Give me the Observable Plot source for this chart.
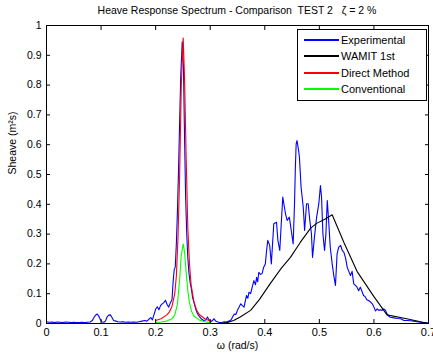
<!DOCTYPE html>
<html>
<head>
<meta charset="utf-8">
<script src="https://cdn.jsdelivr.net/npm/d3@7"></script>
<script src="https://cdn.jsdelivr.net/npm/@observablehq/plot@0.6"></script>
<style>
  html, body { margin: 0; padding: 0; background: #fff; }
  #wrap { position: relative; width: 433px; height: 358px; font-family: "Liberation Sans", Arial, sans-serif; }
  #title { position: absolute; left: 46px; width: 382px; top: 4px; text-align: center; font-size: 10.5px; white-space: pre; }
  #legend { position: absolute; left: 297px; top: 29px; }
</style>
</head>
<body>
<div id="wrap"></div>
<script>
const title = "Heave Response Spectrum - Comparison  TEST 2   \u03b6 = 2 %";
const xLabel = "\u03c9 (rad/s)";
const yLabel = "Sheave (m\u00b2s)";
const xTicks = [0, 0.1, 0.2, 0.3, 0.4, 0.5, 0.6, 0.7];
const xTickLabels = ["0", "0.1", "0.2", "0.3", "0.4", "0.5", "0.6", "0.7"];
const yTicks = [0, 0.1, 0.2, 0.3, 0.4, 0.5, 0.6, 0.7, 0.8, 0.9, 1];
const yTickLabels = ["0", "0.1", "0.2", "0.3", "0.4", "0.5", "0.6", "0.7", "0.8", "0.9", "1"];
const seriesNames = ["Experimental", "WAMIT 1st", "Direct Method", "Conventional"];
const seriesColors = ["#0000ff", "#000000", "#ff0000", "#00ff00"];

const experimental = [
[0.000,0.006],[0.005,0.004],[0.010,0.005],[0.015,0.003],[0.020,0.005],[0.025,0.004],[0.030,0.003],[0.035,0.005],[0.040,0.004],[0.045,0.003],[0.050,0.004],[0.055,0.003],[0.060,0.003],[0.065,0.004],[0.070,0.003],[0.075,0.004],[0.080,0.005],[0.084,0.010],[0.087,0.020],[0.090,0.028],[0.093,0.032],[0.096,0.024],[0.099,0.012],[0.102,0.005],[0.105,0.004],[0.108,0.008],[0.111,0.022],[0.114,0.028],[0.117,0.029],[0.120,0.020],[0.123,0.010],[0.127,0.008],[0.131,0.006],[0.135,0.005],[0.140,0.006],[0.145,0.004],[0.150,0.005],[0.155,0.004],[0.160,0.005],[0.165,0.004],[0.170,0.006],[0.175,0.008],[0.180,0.010],[0.184,0.008],[0.188,0.015],[0.191,0.020],[0.194,0.012],[0.197,0.030],[0.200,0.048],[0.203,0.056],[0.206,0.046],[0.209,0.060],[0.212,0.066],[0.215,0.070],[0.218,0.078],[0.221,0.064],[0.224,0.055],[0.227,0.070],[0.230,0.080],[0.232,0.140],[0.234,0.180],[0.236,0.190],[0.238,0.270],[0.240,0.380],[0.242,0.520],[0.244,0.680],[0.246,0.830],[0.2487,0.945],[0.251,0.860],[0.253,0.620],[0.255,0.420],[0.257,0.300],[0.259,0.220],[0.261,0.170],[0.263,0.140],[0.265,0.120],[0.268,0.085],[0.271,0.065],[0.274,0.045],[0.277,0.032],[0.280,0.024],[0.284,0.015],[0.288,0.010],[0.292,0.012],[0.295,0.022],[0.298,0.012],[0.301,0.006],[0.304,0.010],[0.307,0.016],[0.310,0.008],[0.314,0.005],[0.318,0.003],[0.322,0.004],[0.326,0.006],[0.330,0.005],[0.334,0.008],[0.338,0.012],[0.341,0.022],[0.344,0.032],[0.347,0.030],[0.350,0.045],[0.353,0.055],[0.356,0.066],[0.359,0.060],[0.362,0.055],[0.3665,0.094],[0.369,0.085],[0.371,0.105],[0.374,0.100],[0.377,0.122],[0.380,0.144],[0.383,0.130],[0.385,0.155],[0.387,0.140],[0.389,0.172],[0.392,0.165],[0.395,0.167],[0.398,0.189],[0.401,0.200],[0.403,0.240],[0.4055,0.279],[0.409,0.262],[0.412,0.200],[0.414,0.260],[0.4165,0.335],[0.4215,0.340],[0.424,0.279],[0.4275,0.245],[0.430,0.330],[0.433,0.424],[0.436,0.390],[0.438,0.368],[0.441,0.346],[0.445,0.357],[0.4485,0.312],[0.452,0.267],[0.4545,0.402],[0.456,0.520],[0.4575,0.603],[0.459,0.614],[0.462,0.580],[0.4635,0.558],[0.4665,0.457],[0.4705,0.390],[0.473,0.312],[0.4765,0.402],[0.4795,0.402],[0.4825,0.346],[0.4855,0.301],[0.4875,0.222],[0.491,0.290],[0.495,0.357],[0.499,0.402],[0.502,0.463],[0.504,0.424],[0.5065,0.301],[0.5095,0.245],[0.512,0.300],[0.5145,0.413],[0.517,0.346],[0.520,0.256],[0.5235,0.200],[0.5265,0.160],[0.5295,0.128],[0.5325,0.234],[0.5355,0.256],[0.539,0.262],[0.542,0.245],[0.545,0.239],[0.548,0.220],[0.551,0.189],[0.554,0.175],[0.557,0.161],[0.560,0.175],[0.563,0.133],[0.566,0.128],[0.569,0.122],[0.572,0.110],[0.575,0.122],[0.578,0.108],[0.581,0.094],[0.584,0.090],[0.587,0.080],[0.590,0.077],[0.594,0.072],[0.597,0.066],[0.600,0.055],[0.603,0.042],[0.606,0.049],[0.609,0.044],[0.612,0.046],[0.615,0.044],[0.618,0.049],[0.621,0.045],[0.624,0.032],[0.627,0.025],[0.630,0.021],[0.6365,0.019],[0.643,0.017],[0.649,0.016],[0.655,0.010],[0.661,0.010],[0.667,0.009],[0.673,0.008],[0.679,0.006],[0.685,0.004],[0.691,0.003],[0.698,0.002]
];

const wamit = [
[0.200,0],[0.250,0],[0.300,0],[0.320,0.001],[0.330,0.003],[0.343,0.010],[0.355,0.022],[0.374,0.044],[0.390,0.080],[0.410,0.134],[0.430,0.185],[0.447,0.222],[0.465,0.272],[0.484,0.320],[0.495,0.336],[0.510,0.350],[0.5235,0.365],[0.545,0.272],[0.569,0.175],[0.600,0.090],[0.624,0.029],[0.660,0.016],[0.698,0.001]
];

const direct = [
[0.200,0.010],[0.210,0.016],[0.220,0.028],[0.225,0.038],[0.230,0.058],[0.235,0.100],[0.238,0.160],[0.241,0.290],[0.244,0.500],[0.247,0.800],[0.2505,0.958],[0.253,0.820],[0.256,0.550],[0.259,0.320],[0.262,0.200],[0.265,0.130],[0.270,0.075],[0.275,0.045],[0.280,0.030],[0.290,0.016],[0.300,0.008]
];

const conventional = [
[0.200,0.003],[0.210,0.005],[0.220,0.008],[0.230,0.016],[0.235,0.028],[0.240,0.065],[0.244,0.150],[0.247,0.230],[0.2505,0.267],[0.253,0.240],[0.256,0.170],[0.259,0.110],[0.262,0.070],[0.266,0.040],[0.270,0.025],[0.280,0.012],[0.290,0.006],[0.300,0.003]
];

const series = [experimental, wamit, direct, conventional];
const rows = [];
series.forEach((s, k) => s.forEach(([w, v]) => rows.push({series: seriesNames[k], w, v})));

const font = "Liberation Sans, Arial, sans-serif";
const plot = Plot.plot({
  width: 433,
  height: 358,
  marginLeft: 46,
  marginRight: 5,
  marginTop: 25,
  marginBottom: 35,
  style: {fontFamily: font, fontSize: "10.5px", background: "#fff", color: "#000"},
  x: {domain: [0, 0.7]},
  y: {domain: [0, 1]},
  color: {domain: seriesNames, range: seriesColors},
  marks: [
    Plot.frame({stroke: "#000", strokeWidth: 1}),
    Plot.line(rows, {x: "w", y: "v", z: "series", stroke: "series", strokeWidth: 1.1}),
    Plot.axisX({anchor: "bottom", ticks: xTicks, tickSize: 0, tickPadding: 5, tickFormat: (d, i) => xTickLabels[i], label: null, fontSize: 11, style: "letter-spacing:0.8px"}),
    Plot.axisX({anchor: "bottom", ticks: xTicks, tickSize: -4, tickFormat: () => "", label: null}),
    Plot.axisX({anchor: "top", ticks: xTicks, tickSize: -4, tickFormat: () => "", label: null}),
    Plot.axisY({anchor: "left", ticks: yTicks, tickSize: 0, tickPadding: 5, tickFormat: (d, i) => yTickLabels[i], label: null, fontSize: 10.5}),
    Plot.axisY({anchor: "left", ticks: yTicks, tickSize: -4, tickFormat: () => "", label: null}),
    Plot.axisY({anchor: "right", ticks: yTicks, tickSize: -4, tickFormat: () => "", label: null}),
    Plot.text([xLabel], {frameAnchor: "bottom", dy: 25, fontSize: 10.5}),
    Plot.text([yLabel], {frameAnchor: "left", dx: -34, rotate: -90, fontSize: 10.5})
  ]
});

const wrap = document.getElementById("wrap");
wrap.appendChild(plot);
const t = document.createElement("div");
t.id = "title";
t.textContent = title;
wrap.appendChild(t);

// legend as a small SVG overlay
const lgW = 130, lgH = 72;
const lg = d3.create("svg")
  .attr("id", "legend")
  .attr("width", lgW)
  .attr("height", lgH)
  .style("font-family", font)
  .style("font-size", "11px");
lg.append("rect")
  .attr("x", 0.5).attr("y", 0.5)
  .attr("width", lgW - 1).attr("height", lgH - 1)
  .attr("fill", "#fff").attr("stroke", "#000");
seriesNames.forEach((name, i) => {
  const yy = Math.round(11 + i * 16.3);
  lg.append("line")
    .attr("x1", 7).attr("x2", 42)
    .attr("y1", yy).attr("y2", yy)
    .attr("stroke", seriesColors[i]).attr("stroke-width", 2);
  lg.append("text")
    .attr("x", 44).attr("y", yy)
    .attr("dy", "0.35em")
    .attr("fill", "#000")
    .text(name);
});
wrap.appendChild(lg.node());
</script>
</body>
</html>
